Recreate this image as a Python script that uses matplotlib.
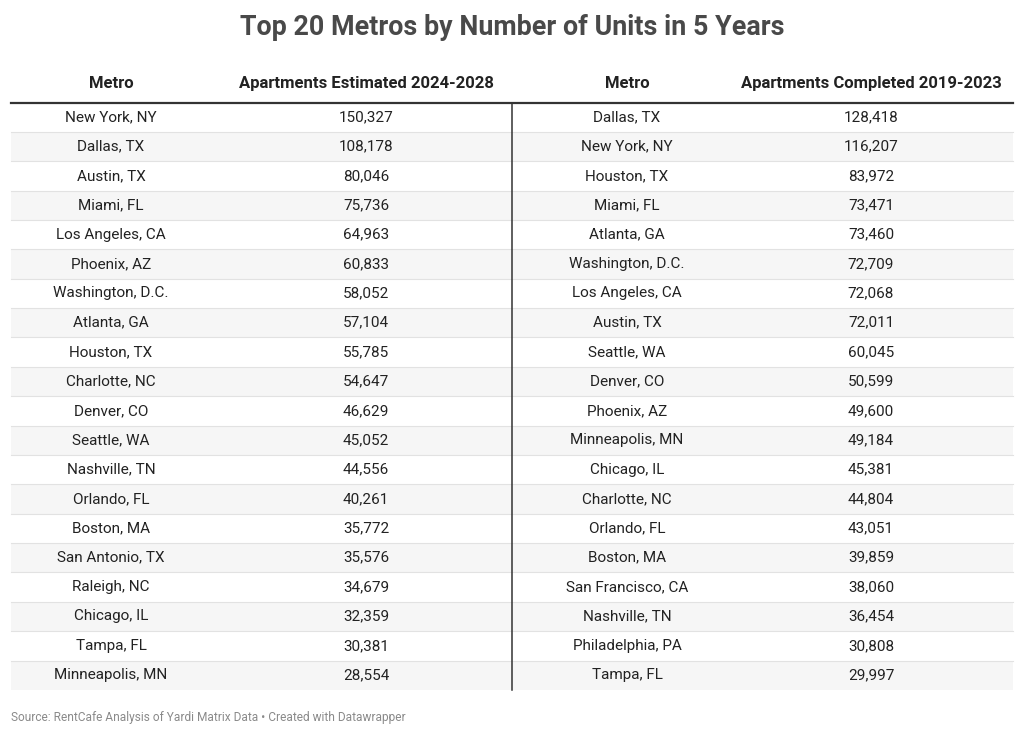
import matplotlib.pyplot as plt

plt.rcParams['font.family'] = ['Roboto', 'DejaVu Sans']

# data
metros_est = ["New York, NY", "Dallas, TX", "Austin, TX", "Miami, FL", "Los Angeles, CA",
              "Phoenix, AZ", "Washington, D.C.", "Atlanta, GA", "Houston, TX", "Charlotte, NC",
              "Denver, CO", "Seattle, WA", "Nashville, TN", "Orlando, FL", "Boston, MA",
              "San Antonio, TX", "Raleigh, NC", "Chicago, IL", "Tampa, FL", "Minneapolis, MN"]
units_est = [150327, 108178, 80046, 75736, 64963, 60833, 58052, 57104, 55785, 54647,
             46629, 45052, 44556, 40261, 35772, 35576, 34679, 32359, 30381, 28554]

metros_done = ["Dallas, TX", "New York, NY", "Houston, TX", "Miami, FL", "Atlanta, GA",
               "Washington, D.C.", "Los Angeles, CA", "Austin, TX", "Seattle, WA", "Denver, CO",
               "Phoenix, AZ", "Minneapolis, MN", "Chicago, IL", "Charlotte, NC", "Orlando, FL",
               "Boston, MA", "San Francisco, CA", "Nashville, TN", "Philadelphia, PA", "Tampa, FL"]
units_done = [128418, 116207, 83972, 73471, 73460, 72709, 72068, 72011, 60045, 50599,
              49600, 49184, 45381, 44804, 43051, 39859, 38060, 36454, 30808, 29997]

headers = ["Metro", "Apartments Estimated 2024-2028", "Metro", "Apartments Completed 2019-2023"]

W, H = 1024, 737
fig = plt.figure(figsize=(W / 100, H / 100), dpi=100)
ax = fig.add_axes([0, 0, 1, 1])
ax.set_xlim(0, W)
ax.set_ylim(H, 0)
ax.axis('off')

left, right = 11, 1013
top = 102.5
row_h = 29.37
col_x = [111, 366, 627, 871]
mid_x = 512
txt = '#222222'

ax.text(W / 2, 27, "Top 20 Metros by Number of Units in 5 Years", ha='center', va='center',
        fontsize=19.4, fontweight='bold', color='#494949')

for x, h in zip(col_x, headers):
    ax.text(x, 83, h, ha='center', va='center', fontsize=12, fontweight='bold', color=txt)

n = len(metros_est)
for i in range(n):
    y0 = top + i * row_h
    if i % 2 == 1:
        ax.add_patch(plt.Rectangle((left, y0), right - left, row_h, color='#f6f6f6', lw=0, zorder=0))
    if i > 0:
        ax.plot([left, right], [y0, y0], color='#e2e2e2', lw=0.8, zorder=1)
    yc = y0 + row_h / 2
    cells = [metros_est[i], f"{units_est[i]:,}", metros_done[i], f"{units_done[i]:,}"]
    for x, c in zip(col_x, cells):
        ax.text(x, yc, c, ha='center', va='center', fontsize=11, color=txt)

bottom = top + n * row_h
ax.plot([left, right], [top, top], color='#333333', lw=1.6, zorder=2)
ax.plot([mid_x, mid_x], [top, bottom], color='#333333', lw=1.1, zorder=2)

ax.text(left, 718, "Source: RentCafe Analysis of Yardi Matrix Data \u2022 Created with Datawrapper",
        ha='left', va='center', fontsize=8.6, color='#8a8a8a')

fig.savefig('out.png', dpi=100)
